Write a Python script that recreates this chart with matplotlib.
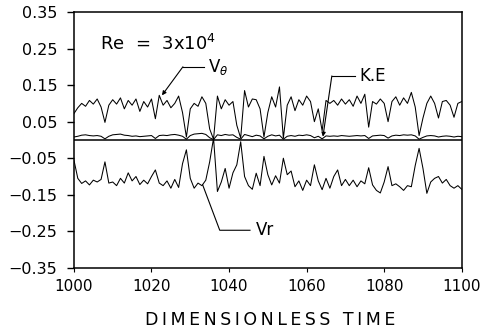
"""Vitesses V_theta, V_r et K.E. en fonction du temps adimensionnel, Re = 3x10^4."""
import matplotlib
matplotlib.use("Agg")
import matplotlib.pyplot as plt
import numpy as np

# temps adimensionnel, un point par unité
t = np.arange(1000, 1101)

v_theta = [
    0.072, 0.088, 0.100, 0.092, 0.108, 0.098, 0.112, 0.090, 0.048, 0.095,
    0.110, 0.098, 0.115, 0.085, 0.108, 0.095, 0.112, 0.078, 0.105, 0.090,
    0.112, 0.058, 0.122, 0.095, 0.108, 0.088, 0.100, 0.120, 0.075, 0.008,
    0.085, 0.100, 0.092, 0.118, 0.100, 0.030, 0.002, 0.120, 0.085, 0.110,
    0.095, 0.105, 0.040, 0.005, 0.135, 0.090, 0.112, 0.110, 0.085, 0.008,
    0.075, 0.118, 0.090, 0.145, 0.005, 0.095, 0.118, 0.080, 0.110, 0.095,
    0.120, 0.105, 0.050, 0.085, 0.025, 0.108, 0.100, 0.108, 0.095, 0.112,
    0.098, 0.110, 0.092, 0.120, 0.100, 0.125, 0.035, 0.105, 0.098, 0.112,
    0.100, 0.050, 0.105, 0.118, 0.095, 0.115, 0.100, 0.130, 0.090, 0.012,
    0.060, 0.100, 0.120, 0.100, 0.060, 0.105, 0.108, 0.095, 0.062, 0.100,
    0.105,
]

ke = [
    0.008, 0.010, 0.013, 0.014, 0.012, 0.011, 0.012, 0.010, 0.003, 0.010,
    0.014, 0.015, 0.016, 0.013, 0.012, 0.010, 0.011, 0.009, 0.010, 0.011,
    0.012, 0.004, 0.012, 0.013, 0.012, 0.014, 0.015, 0.013, 0.010, 0.002,
    0.012, 0.016, 0.017, 0.018, 0.015, 0.006, 0.001, 0.014, 0.012, 0.015,
    0.013, 0.014, 0.007, 0.002, 0.015, 0.012, 0.009, 0.013, 0.011, 0.003,
    0.010, 0.014, 0.011, 0.013, 0.002, 0.010, 0.012, 0.010, 0.013, 0.012,
    0.014, 0.012, 0.006, 0.010, 0.003, 0.011, 0.010, 0.011, 0.010, 0.012,
    0.011, 0.010, 0.011, 0.012, 0.011, 0.012, 0.004, 0.011, 0.012, 0.013,
    0.012, 0.005, 0.011, 0.013, 0.012, 0.014, 0.013, 0.014, 0.011, 0.002,
    0.007, 0.011, 0.012, 0.011, 0.008, 0.010, 0.011, 0.010, 0.008, 0.010,
    0.009,
]

v_r = [
    -0.055, -0.105, -0.119, -0.112, -0.123, -0.110, -0.115, -0.108, -0.060, -0.118,
    -0.115, -0.125, -0.105, -0.118, -0.090, -0.112, -0.100, -0.122, -0.110, -0.120,
    -0.100, -0.082, -0.118, -0.125, -0.112, -0.132, -0.108, -0.130, -0.065, -0.027,
    -0.105, -0.132, -0.118, -0.125, -0.110, -0.060, 0.005, -0.141, -0.115, -0.078,
    -0.132, -0.090, -0.068, -0.005, -0.100, -0.125, -0.135, -0.091, -0.125, -0.045,
    -0.095, -0.123, -0.098, -0.118, -0.050, -0.095, -0.085, -0.128, -0.112, -0.138,
    -0.110, -0.125, -0.068, -0.112, -0.136, -0.105, -0.132, -0.100, -0.082, -0.125,
    -0.108, -0.125, -0.110, -0.128, -0.112, -0.120, -0.076, -0.123, -0.138, -0.145,
    -0.115, -0.073, -0.125, -0.120, -0.128, -0.138, -0.125, -0.128, -0.070, -0.023,
    -0.078, -0.146, -0.115, -0.105, -0.100, -0.118, -0.108, -0.125, -0.132, -0.125,
    -0.135,
]

yticks = [0.35, 0.25, 0.15, 0.05, -0.05, -0.15, -0.25, -0.35]
xticks = [1000, 1020, 1040, 1060, 1080, 1100]

fig = plt.figure(figsize=(4.8, 3.32), dpi=100)
ax = fig.add_axes([0.154, 0.193, 0.808, 0.771])

for s in (v_theta, ke, v_r):
    ax.plot(t, s, color="k", lw=0.75)
ax.axhline(0, color="k", lw=1.1)

ax.set_xlim(1000, 1100)
ax.set_ylim(-0.35, 0.35)
ax.set_xticks(xticks)
ax.set_yticks(yticks)
ax.set_yticklabels([f"{v:.2f}".replace("-", "\u2212") for v in yticks])
ax.tick_params(axis="y", direction="out", length=5, width=1, pad=7, labelsize=11.5)
ax.tick_params(axis="x", direction="out", length=3, width=0.8, pad=5, labelsize=11)
for sp in ax.spines.values():
    sp.set_linewidth(1.1)

# légendes fléchées
arrow = dict(arrowstyle="-|>", mutation_scale=6, lw=0.8, color="k", shrinkA=0, shrinkB=0)
ax.annotate("", xy=(1022.7, 0.122), xytext=(1028.1, 0.200), arrowprops=arrow)
ax.plot([1028.1, 1033.5], [0.200, 0.200], color="k", lw=0.8)
ax.text(1034.5, 0.200, "V$_{\\theta}$", fontsize=12, va="center")

ax.annotate("", xy=(1064.2, 0.009), xytext=(1066.5, 0.175), arrowprops=arrow)
ax.plot([1066.5, 1072.4], [0.175, 0.175], color="k", lw=0.8)
ax.text(1073.7, 0.175, "K.E", fontsize=12, va="center")

ax.plot([1033.2, 1037.6, 1045.4], [-0.123, -0.247, -0.247], color="k", lw=0.8)
ax.text(1047.0, -0.247, "Vr", fontsize=12, va="center")

ax.text(1006.7, 0.262, "Re  =  3x10$^{4}$", fontsize=13, va="center")

fig.text(270 / 480, 1 - 320 / 332, "\u2009".join("DIMENSIONLESS TIME"),
         fontsize=12.5, ha="center", va="center")

fig.savefig("out.png", dpi=100)
